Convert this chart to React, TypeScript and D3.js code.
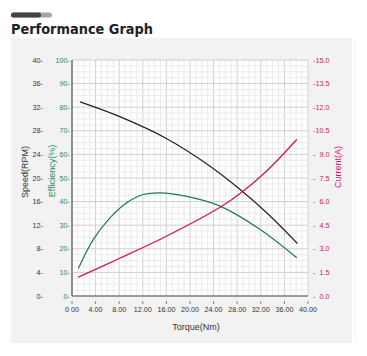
import React from "react";
import * as d3 from "d3";

const speedTorque = [1.36, 8.1, 16.0, 23.4, 28.5, 33.0, 38.2];
const speedRpm = [32.9, 30.4, 26.7, 22.0, 18.05, 14.1, 8.9];

const effTorque = [1.07, 3.6, 6.44, 9.27, 12.1, 15.2, 20.6, 25.1, 31.9, 38.1];
const effPct = [11.65, 23.9, 33.1, 39.5, 43.0, 43.7, 41.6, 38.1, 28.2, 16.2];

const curTorque = [1.07, 8.1, 16.0, 25.1, 28.6, 33.0, 38.1];
const curAmp = [1.2, 2.4, 3.8, 5.64, 6.55, 7.95, 9.95];

const xTicks = [0, 4, 8, 12, 16, 20, 24, 28, 32, 36, 40];
const xTickLabels = ["0 00", "4.00", "8.00", "12.00", "16.00", "20.00", "24.00", "28.00", "32.00", "36.00", "40.00"];
const speedTicks = [0, 4, 8, 12, 16, 20, 24, 28, 32, 36, 40];
const effTicks = [0, 10, 20, 30, 40, 50, 60, 70, 80, 90, 100];
const curTicks = [0, 1.5, 3, 4.5, 6, 7.5, 9, 10.5, 12, 13.5, 15];

const GREEN = "#1f7a52";
const GREEN_T = "#2b8a5c";
const RED = "#d6145f";
const DARK = "#333";
const FONT = "'Liberation Sans', Arial, sans-serif";

export default function App() {
  const L = 72, R = 308, T = 60, B = 296;
  const x = d3.scaleLinear().domain([0, 40]).range([L, R]);
  const ySpeed = d3.scaleLinear().domain([0, 40]).range([B, T]);
  const yEff = d3.scaleLinear().domain([0, 100]).range([B, T]);
  const yCur = d3.scaleLinear().domain([0, 15]).range([B, T]);

  const line = d3.line<[number, number]>().curve(d3.curveCatmullRom.alpha(0.5));
  const speedPath = line(speedTorque.map((t, i) => [x(t), ySpeed(speedRpm[i])]));
  const effPath = line(effTorque.map((t, i) => [x(t), yEff(effPct[i])]));
  const curPath = line(curTorque.map((t, i) => [x(t), yCur(curAmp[i])]));

  const minorX = d3.range(0, 41, 1);
  const minorY = d3.range(0, 41, 1);

  return (
    <svg width={367} height={356} style={{ position: "absolute", left: 0, top: 0, background: "#fff" }}>
      <rect x={11} y={12.5} width={41} height={5} rx={2.5} fill="#a5a5a5" />
      <rect x={11} y={12.5} width={30} height={5} rx={2.5} fill="#444" />
      <text x={11} y={34} fontFamily="'DejaVu Sans', sans-serif" fontWeight={700} fontSize={14} fill="#222" textLength={142} lengthAdjust="spacingAndGlyphs">Performance Graph</text>

      <rect x={11} y={38} width={341} height={305} fill="#f2f2f2" />
      <line x1={355} x2={355} y1={38} y2={343} stroke="#f4f4f4" />

      <rect x={L} y={T} width={R - L} height={B - T} fill="#fff" />
      {minorX.map((v) => (
        <line key={"mx" + v} x1={x(v)} x2={x(v)} y1={T} y2={B} stroke={v % 4 === 0 ? "#cfcfcf" : "#ebebeb"} strokeWidth={1} />
      ))}
      {minorY.map((v) => (
        <line key={"my" + v} x1={L} x2={R} y1={ySpeed(v)} y2={ySpeed(v)} stroke={v % 4 === 0 ? "#cfcfcf" : "#ebebeb"} strokeWidth={1} />
      ))}

      <line x1={L} x2={L} y1={T} y2={B} stroke="#555" strokeWidth={1.2} />
      <line x1={L} x2={R} y1={B} y2={B} stroke="#555" strokeWidth={1.2} />

      <path d={speedPath || ""} fill="none" stroke="#222" strokeWidth={1.2} />
      <path d={effPath || ""} fill="none" stroke={GREEN} strokeWidth={1.2} />
      <path d={curPath || ""} fill="none" stroke={RED} strokeWidth={1.3} />

      {speedTicks.map((v) => (
        <text key={"s" + v} x={43} y={ySpeed(v) + 2.5} textAnchor="end" fontFamily={FONT} fontSize={7.2} fill={DARK}>{v + "-"}</text>
      ))}
      {effTicks.map((v) => (
        <text key={"e" + v} x={70} y={yEff(v) + 2.5} textAnchor="end" fontFamily={FONT} fontSize={7.2} fill={GREEN_T}>{v + "-"}</text>
      ))}
      {curTicks.map((v) => (
        <g key={"c" + v}>
          <text x={313} y={yCur(v) + 2.5} fontFamily={FONT} fontSize={7.2} fill={RED}>-</text>
          <text x={329.5} y={yCur(v) + 2.5} textAnchor="end" fontFamily={FONT} fontSize={7.2} fill={RED}>{v.toFixed(1)}</text>
        </g>
      ))}
      {xTicks.map((v, i) => (
        <g key={"x" + v}>
          <line x1={x(v)} x2={x(v)} y1={301} y2={304} stroke="#666" strokeWidth={0.8} />
          <text x={x(v)} y={312} textAnchor="middle" fontFamily={FONT} fontSize={7.2} fill={DARK}>{xTickLabels[i]}</text>
        </g>
      ))}

      <text transform="translate(27.5,172) rotate(-90)" textAnchor="middle" fontFamily={FONT} fontSize={9} fill={DARK}>Speed(RPM)</text>
      <text transform="translate(54.5,171) rotate(-90)" textAnchor="middle" fontFamily={FONT} fontSize={9} fill={GREEN_T}>Efficiency(%)</text>
      <text transform="translate(340.5,167) rotate(-90)" textAnchor="middle" fontFamily={FONT} fontSize={9} fill={RED}>Current(A)</text>
      <text x={196} y={329.5} textAnchor="middle" fontFamily={FONT} fontSize={9} fill={DARK}>Torque(Nm)</text>
    </svg>
  );
}
